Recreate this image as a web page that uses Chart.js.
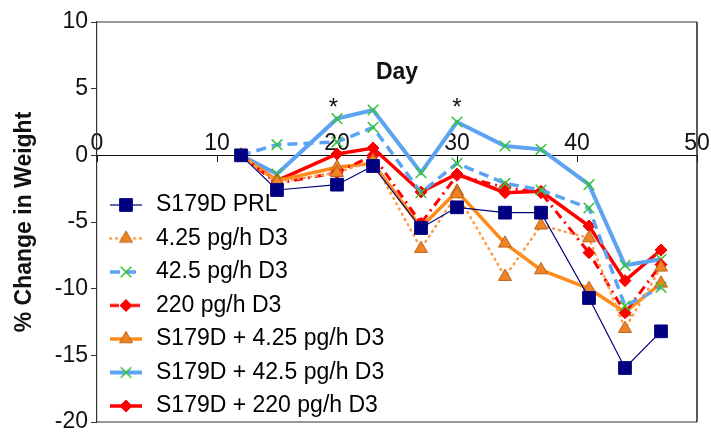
<!DOCTYPE html>
<html>
<head>
<meta charset="utf-8">
<script src="https://cdn.jsdelivr.net/npm/chart.js@4.4.1/dist/chart.umd.min.js"></script>
<style>
  html, body { margin: 0; padding: 0; background: #fff; }
  #wrap { width: 711px; height: 432px; }
</style>
</head>
<body>
<div id="wrap"><canvas id="chart" width="711" height="432"></canvas></div>
<script>
// days of measurement
const days = [12, 15, 20, 23, 27, 30, 34, 37, 41, 44, 47]

// % change in weight per group
const prl = [0, -2.6, -2.2, -0.8, -5.45, -3.9, -4.3, -4.3, -10.7, -15.95, -13.2]
const d3Low = [0, -2.0, -1.3, -0.4, -7.0, -2.9, -9.1, -5.25, -6.2, -13.0, -8.4]
const d3Mid = [0, 0.8, 1.0, 2.1, -2.8, -0.6, -2.1, -2.6, -3.95, -11.3, -9.9]
const d3High = [0, -2.1, -1.3, 0, -5.1, -1.5, -2.4, -2.8, -7.3, -11.8, -8.2]
const prlLow = [0, -1.9, -0.9, -0.6, -5.4, -2.7, -6.6, -8.6, -10.0, -11.75, -9.6]
const prlMid = [0, -1.4, 2.75, 3.4, -1.3, 2.5, 0.7, 0.45, -2.2, -8.25, -7.8]
const prlHigh = [0, -1.9, 0.1, 0.55, -2.75, -1.4, -2.8, -2.7, -5.3, -9.4, -7.1]

const seriesNames = [
  "S179D PRL",
  "4.25 pg/h D3",
  "42.5 pg/h D3",
  "220 pg/h D3",
  "S179D + 4.25 pg/h D3",
  "S179D + 42.5 pg/h D3",
  "S179D + 220 pg/h D3"
]

const xTicks = { min: 0, max: 50, step: 10 }
const yTicks = { min: -20, max: 10, step: 5 }
const starDays = [19.7, 30]
const starLevel = 3

const FONT = "'Liberation Sans', Arial, sans-serif"
const navy = "#000080"
const orange = "#FF8C1A"
const triFill = "#F08425"
const triEdge = "#B8621A"
const blue = "#5CA3F2"
const red = "#FF0000"
const green = "#35C438"

const points = vals => vals.map((v, i) => ({ x: days[i], y: v }))

const styles = [
  { data: prl, borderColor: navy, borderWidth: 1.2, borderDash: [],
    pointStyle: "rect", pointRadius: 9, pointBackgroundColor: navy, pointBorderColor: navy, pointBorderWidth: 1 },
  { data: d3Low, borderColor: "#FF9A45", borderWidth: 2.5, borderDash: [1, 5], borderCapStyle: "round",
    pointStyle: "triangle", pointRadius: 7.5, pointBackgroundColor: triFill, pointBorderColor: triEdge, pointBorderWidth: 1 },
  { data: d3Mid, borderColor: blue, borderWidth: 3.5, borderDash: [10, 6],
    pointStyle: "crossRot", pointRadius: 7.5, pointBackgroundColor: green, pointBorderColor: green, pointBorderWidth: 1.5 },
  { data: d3High, borderColor: red, borderWidth: 3, borderDash: [9, 5, 2, 5],
    pointStyle: "rectRot", pointRadius: 6, pointBackgroundColor: red, pointBorderColor: red, pointBorderWidth: 1 },
  { data: prlLow, borderColor: orange, borderWidth: 3.5, borderDash: [],
    pointStyle: "triangle", pointRadius: 7.5, pointBackgroundColor: triFill, pointBorderColor: triEdge, pointBorderWidth: 1 },
  { data: prlMid, borderColor: blue, borderWidth: 4, borderDash: [],
    pointStyle: "crossRot", pointRadius: 7.5, pointBackgroundColor: green, pointBorderColor: green, pointBorderWidth: 1.5 },
  { data: prlHigh, borderColor: red, borderWidth: 3.5, borderDash: [],
    pointStyle: "rectRot", pointRadius: 6, pointBackgroundColor: red, pointBorderColor: red, pointBorderWidth: 1 }
]

const datasets = styles.map((s, i) => Object.assign({}, s, {
  label: seriesNames[i],
  data: points(s.data),
  tension: 0,
  fill: false,
  pointHoverRadius: s.pointRadius
}))

// little line+marker picture for each legend row
function legendSample(ds) {
  const c = document.createElement("canvas")
  c.width = 34
  c.height = 22
  const g = c.getContext("2d")
  g.strokeStyle = ds.borderColor
  g.lineWidth = ds.borderWidth
  g.lineCap = ds.borderCapStyle || "butt"
  g.setLineDash(ds.borderDash)
  g.beginPath()
  g.moveTo(1, 11)
  g.lineTo(33, 11)
  g.stroke()
  g.setLineDash([])
  g.lineCap = "butt"
  g.fillStyle = ds.pointBackgroundColor
  g.strokeStyle = ds.pointBorderColor
  g.lineWidth = ds.pointBorderWidth
  Chart.helpers.drawPoint(g, { pointStyle: ds.pointStyle, radius: ds.pointRadius, rotation: 0, borderWidth: ds.pointBorderWidth }, 17, 11)
  return c
}

const extras = {
  id: "extras",
  afterLayout(chart) {
    const lg = chart.legend
    if (lg) {
      lg.top = chart.chartArea.top
      lg.bottom = chart.chartArea.bottom + 6
    }
  },
  beforeDatasetsDraw(chart) {
    const { ctx, chartArea: a } = chart
    ctx.save()
    ctx.strokeStyle = "#777"
    ctx.lineWidth = 1.5
    ctx.beginPath()
    ctx.moveTo(a.left, a.top)
    ctx.lineTo(a.right, a.top)
    ctx.moveTo(a.left, a.bottom)
    ctx.lineTo(a.right, a.bottom)
    ctx.stroke()
    ctx.strokeStyle = "#222"
    ctx.beginPath()
    ctx.moveTo(a.right, a.top)
    ctx.lineTo(a.right, a.bottom)
    ctx.stroke()
    ctx.restore()
  },
  afterDraw(chart) {
    const { ctx, chartArea: a, scales } = chart
    ctx.save()
    ctx.fillStyle = "#111"
    ctx.textAlign = "center"
    ctx.textBaseline = "middle"
    ctx.font = "bold 23px " + FONT
    ctx.fillText("Day", (a.left + a.right) / 2, a.top + 51)
    ctx.font = "24px " + FONT
    ctx.textBaseline = "alphabetic"
    starDays.forEach(d => {
      ctx.fillText("*", scales.x.getPixelForValue(d), scales.y.getPixelForValue(starLevel))
    })
    ctx.restore()
  }
}

new Chart(document.getElementById("chart"), {
  type: "line",
  data: { datasets },
  options: {
    responsive: false,
    animation: false,
    events: [],
    layout: { padding: { left: 0, right: 14, top: 22, bottom: 10 } },
    plugins: {
      tooltip: { enabled: false },
      legend: {
        position: "chartArea",
        align: "end",
        labels: {
          usePointStyle: true,
          pointStyleWidth: 37,
          padding: 10.5,
          color: "#111",
          font: { family: FONT, size: 23 },
          generateLabels: chart => chart.data.datasets.map((ds, i) => ({
            text: ds.label,
            pointStyle: legendSample(styles[i]),
            fillStyle: ds.borderColor,
            strokeStyle: ds.borderColor,
            lineWidth: 0,
            hidden: false,
            datasetIndex: i
          }))
        }
      }
    },
    scales: {
      x: {
        type: "linear",
        position: { y: 0 },
        min: xTicks.min,
        max: xTicks.max,
        ticks: {
          stepSize: xTicks.step,
          maxRotation: 0,
          padding: -31.8,
          color: "#111",
          font: { family: FONT, size: 23 }
        },
        grid: { drawOnChartArea: false, tickLength: 6, color: "#111", lineWidth: 1 },
        border: { color: "#111", width: 1 },
        afterFit(s) { s.paddingLeft = 0; s.paddingRight = 0 }
      },
      y: {
        type: "linear",
        position: "left",
        min: yTicks.min,
        max: yTicks.max,
        ticks: {
          stepSize: yTicks.step,
          padding: 3,
          color: "#111",
          font: { family: FONT, size: 23 }
        },
        grid: { drawOnChartArea: false, tickLength: 6, color: "#333", lineWidth: 1 },
        border: { color: "#333", width: 1.2 },
        title: {
          display: true,
          text: "% Change in Weight",
          color: "#111",
          font: { family: FONT, size: 23, weight: "bold" },
          padding: { top: 11, bottom: 0 }
        },
        afterFit(s) { s.width = 97; s.paddingTop = 0; s.paddingBottom = 0 }
      }
    }
  },
  plugins: [extras]
})
</script>
</body>
</html>
